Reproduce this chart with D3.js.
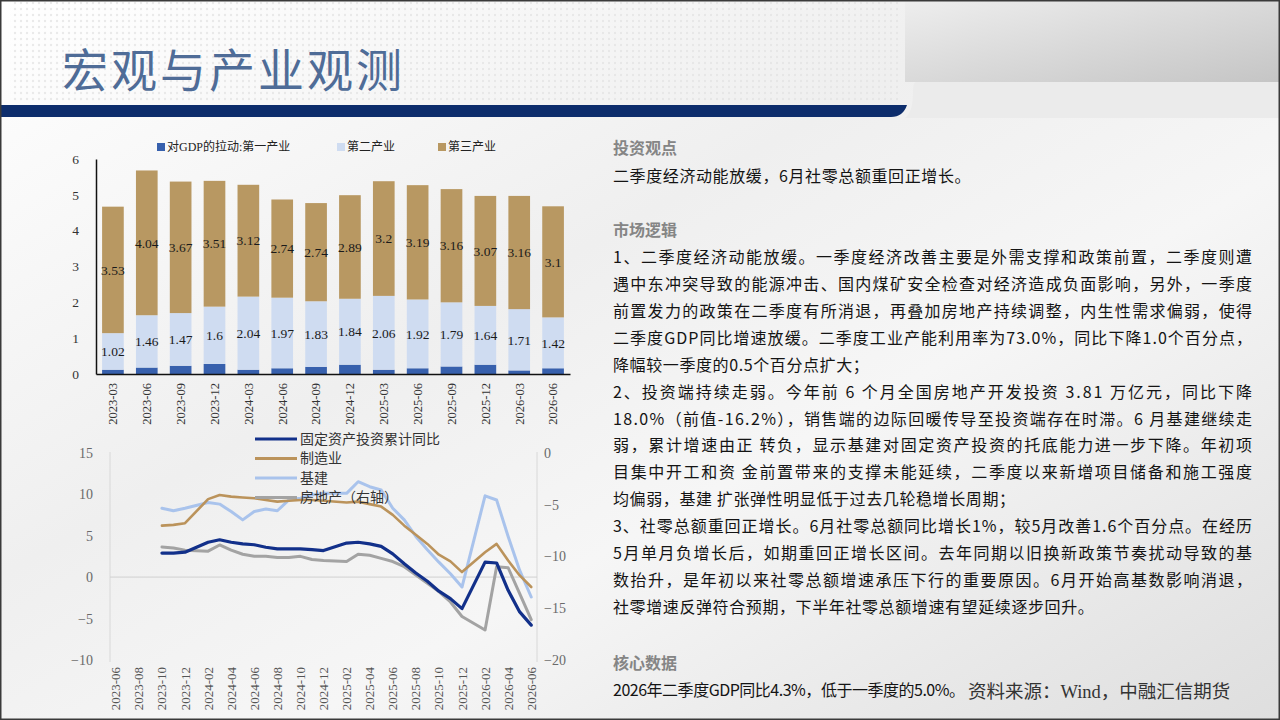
<!DOCTYPE html>
<html>
<head>
<meta charset="utf-8">
<script src="https://cdn.jsdelivr.net/npm/d3@7"></script>
<style>
  body { margin: 0; background: #fff; }
  svg { display: block; font-family: "Liberation Serif", "Noto Sans CJK SC", serif; }
  .panel { font-family: "Noto Sans CJK SC", sans-serif; }
</style>
</head>
<body>
<svg id="slide" width="1280" height="720"></svg>
<script>
// ---- bar chart data (GDP 拉动, 季度) ----
const quarters = ["2023-03","2023-06","2023-09","2023-12","2024-03","2024-06","2024-09","2024-12","2025-03","2025-06","2025-09","2025-12","2026-03","2026-06"];
const primary   = [0.12,0.18,0.23,0.28,0.12,0.16,0.20,0.26,0.12,0.16,0.21,0.26,0.10,0.16];
const secondary = [1.02,1.46,1.47,1.6,2.04,1.97,1.83,1.84,2.06,1.92,1.79,1.64,1.71,1.42];
const tertiary  = [3.53,4.04,3.67,3.51,3.12,2.74,2.74,2.89,3.2,3.19,3.16,3.07,3.16,3.1];
const barSeries = ["对GDP的拉动:第一产业","第二产业","第三产业"];
const barTicks = [0,1,2,3,4,5,6];

// ---- line chart data (月度累计同比) ----
const axisMonths = ["2023-06","2023-07","2023-08","2023-09","2023-10","2023-11","2023-12",
  "2024-01","2024-02","2024-03","2024-04","2024-05","2024-06","2024-07","2024-08","2024-09","2024-10","2024-11","2024-12",
  "2025-01","2025-02","2025-03","2025-04","2025-05","2025-06","2025-07","2025-08","2025-09","2025-10","2025-11","2025-12",
  "2026-01","2026-02","2026-03","2026-04","2026-05","2026-06"];
const dataMonths = ["2023-10","2023-11","2023-12",
  "2024-02","2024-03","2024-04","2024-05","2024-06","2024-07","2024-08","2024-09","2024-10","2024-11","2024-12",
  "2025-02","2025-03","2025-04","2025-05","2025-06","2025-07","2025-08","2025-09","2025-10","2025-11","2025-12",
  "2026-02","2026-03","2026-04","2026-05","2026-06"];
const fixedAsset    = [2.9,2.9,3.0, 4.2,4.5,4.2,4.0,3.9,3.6,3.4,3.4,3.4,3.3,3.2, 4.1,4.2,4.0,3.7,2.8,1.6,0.5,-0.5,-1.7,-2.6,-3.8, 1.8,1.7,-1.6,-4.2,-5.8];
const manufacturing = [6.2,6.3,6.5, 9.4,9.9,9.7,9.6,9.5,9.3,9.1,9.2,9.3,9.3,9.2, 9.0,9.1,8.8,8.5,7.5,6.2,5.1,4.0,2.7,1.9,0.6, 3.0,4.0,2.0,0.2,-1.2];
const infra         = [8.3,8.0,8.3, 9.0,8.8,7.9,6.9,7.9,8.2,8.0,9.3,9.5,9.9,10.1, 10.1,11.5,10.9,10.5,8.3,6.9,4.9,3.3,1.8,0.4,-1.2, 9.8,9.3,4.9,0.8,-2.4];
const realEstate    = [-9.1,-9.2,-9.4, -9.5,-8.9,-9.4,-9.8,-10.0,-10.0,-10.1,-10.1,-10.0,-10.3,-10.4, -10.5,-9.8,-9.9,-10.2,-10.5,-11.0,-11.8,-12.6,-13.4,-14.4,-15.8, -17.1,-11.0,-11.1,-13.6,-16.1];
const lineNames = ["固定资产投资累计同比","制造业","基建","房地产（右轴）"];
const leftTicks = [15,10,5,0,-5,-10];
const rightTicks = [0,-5,-10,-15,-20];

// ---- text panel ----
const panelBlocks = [
  { head: "投资观点", lines: [["二季度经济动能放缓，6月社零总额重回正增长。", 0]] },
  { head: "市场逻辑", lines: [
    ["1、二季度经济动能放缓。一季度经济改善主要是外需支撑和政策前置，二季度则遭", 639],
    ["遇中东冲突导致的能源冲击、国内煤矿安全检查对经济造成负面影响，另外，一季度", 639],
    ["前置发力的政策在二季度有所消退，再叠加房地产持续调整，内生性需求偏弱，使得", 639],
    ["二季度GDP同比增速放缓。二季度工业产能利用率为73.0%，同比下降1.0个百分点，", 639],
    ["降幅较一季度的0.5个百分点扩大；", 0],
    ["2、投资端持续走弱。今年前 6 个月全国房地产开发投资 3.81 万亿元，同比下降", 639],
    ["18.0%（前值-16.2%），销售端的边际回暖传导至投资端存在时滞。6 月基建继续走", 639],
    ["弱，累计增速由正 转负，显示基建对固定资产投资的托底能力进一步下降。年初项", 639],
    ["目集中开工和资 金前置带来的支撑未能延续，二季度以来新增项目储备和施工强度", 639],
    ["均偏弱，基建 扩张弹性明显低于过去几轮稳增长周期；", 0],
    ["3、社零总额重回正增长。6月社零总额同比增长1%，较5月改善1.6个百分点。在经历", 639],
    ["5月单月负增长后，如期重回正增长区间。去年同期以旧换新政策节奏扰动导致的基", 639],
    ["数抬升，是年初以来社零总额增速承压下行的重要原因。6月开始高基数影响消退，", 639],
    ["社零增速反弹符合预期，下半年社零总额增速有望延续逐步回升。", 0]
  ]},
  { head: "核心数据", lines: [["2026年二季度GDP同比4.3%，低于一季度的5.0%。", 352]] }
];
const sourceNote = "资料来源：Wind，中融汇信期货";
const slideTitle = "宏观与产业观测";

const svg = d3.select("#slide");
const defs = svg.append("defs");

// background
const bg = defs.append("linearGradient").attr("id", "bg")
  .attr("x1", "0").attr("y1", "0").attr("x2", "1").attr("y2", "1");
bg.append("stop").attr("offset", "0%").attr("stop-color", "#ffffff");
bg.append("stop").attr("offset", "40%").attr("stop-color", "#efefef");
bg.append("stop").attr("offset", "62%").attr("stop-color", "#f6f6f6");
bg.append("stop").attr("offset", "100%").attr("stop-color", "#dedede");
svg.append("rect").attr("width", 1280).attr("height", 720).attr("fill", "url(#bg)");

const dots = defs.append("pattern").attr("id", "dots")
  .attr("width", 6).attr("height", 6).attr("patternUnits", "userSpaceOnUse");
dots.append("circle").attr("cx", 3).attr("cy", 3).attr("r", 1.2).attr("fill", "#e2e2e2");
svg.append("rect").attr("x", 10).attr("y", 2).attr("width", 890).attr("height", 100)
  .attr("fill", "url(#dots)").attr("opacity", 0.7);

const hdr = defs.append("linearGradient").attr("id", "hdr")
  .attr("x1", "0").attr("y1", "0").attr("x2", "1").attr("y2", "1");
hdr.append("stop").attr("offset", "0%").attr("stop-color", "#eeeeee");
hdr.append("stop").attr("offset", "100%").attr("stop-color", "#c5c5c5");
svg.append("rect").attr("x", 905).attr("y", 0).attr("width", 375).attr("height", 82).attr("fill", "url(#hdr)");
svg.append("path").attr("d", "M916 82 L1280 82 L1280 118 L905 118 Q913 112 913 92 Q913 82 916 82 Z").attr("fill", "#ebebeb");
svg.append("path").attr("d", "M0 105 L907 105 Q903 117 891 117 L0 117 Z").attr("fill", "#0d2d6c");

svg.append("text").attr("x", 62).attr("y", 87)
  .attr("font-family", "'Noto Sans CJK SC', sans-serif").attr("font-weight", 400)
  .attr("font-size", 46).attr("letter-spacing", 3).attr("fill", "#4f6c97").text(slideTitle);

// ---------------- bar chart ----------------
const bx = d3.scaleBand().domain(quarters).range([96, 570]).paddingInner(0.36).paddingOuter(0.18);
const by = d3.scaleLinear().domain([0, 6]).range([374, 159]);
const barColors = ["#3760ad", "#cfdcf1", "#b89862"];

const stacked = d3.stack().keys([0, 1, 2]).value((d, k) => d[k])(
  quarters.map((q, i) => [primary[i], secondary[i], tertiary[i]])
);

const gBar = svg.append("g");
stacked.forEach((layer, k) => {
  gBar.selectAll(null).data(layer).enter().append("rect")
    .attr("x", (d, i) => bx(quarters[i]))
    .attr("width", bx.bandwidth())
    .attr("y", d => by(d[1]))
    .attr("height", d => by(d[0]) - by(d[1]))
    .attr("fill", barColors[k]);
  if (k > 0) {
    gBar.selectAll(null).data(layer).enter().append("text")
      .attr("x", (d, i) => bx(quarters[i]) + bx.bandwidth() / 2)
      .attr("y", d => by((d[0] + d[1]) / 2))
      .attr("dy", "0.35em").attr("text-anchor", "middle")
      .attr("font-size", 13.5).attr("fill", "#1a1a1a")
      .text((d, i) => (k === 1 ? secondary[i] : tertiary[i]));
  }
});

const yAxisBar = svg.append("g").attr("transform", "translate(96,0)")
  .call(d3.axisLeft(by).tickValues(barTicks).tickFormat(d3.format("d")).tickSize(0).tickPadding(17));
yAxisBar.select(".domain").attr("stroke", "#111").attr("stroke-width", 1.5);
yAxisBar.selectAll("text").attr("font-size", 13.5).attr("fill", "#333")
  .attr("font-family", "'Liberation Serif', serif");

const xAxisBar = svg.append("g").attr("transform", "translate(0,374)")
  .call(d3.axisBottom(bx).tickSize(0).tickPadding(0));
xAxisBar.select(".domain").attr("stroke", "#111").attr("stroke-width", 1.5);
xAxisBar.selectAll("text").attr("font-size", 12.5).attr("fill", "#333")
  .attr("font-family", "'Liberation Serif', serif")
  .attr("text-anchor", "end").attr("transform", "translate(0,9) rotate(-90)")
  .attr("dx", 0).attr("dy", "0.35em").attr("y", 0).attr("x", 0);

const legBar = svg.append("g");
const legBarX = [157, 337, 438];
barSeries.forEach((name, k) => {
  legBar.append("rect").attr("x", legBarX[k]).attr("y", 143).attr("width", 8).attr("height", 8).attr("fill", barColors[k]);
  legBar.append("text").attr("x", legBarX[k] + 10).attr("y", 147).attr("dy", "0.35em")
    .attr("font-size", 12).attr("fill", "#222").text(name);
});

// ---------------- line chart ----------------
const lx = d3.scaleBand().domain(axisMonths).range([110, 537]);
const lyL = d3.scaleLinear().domain([-10, 15]).range([660, 452.7]);
const lyR = d3.scaleLinear().domain([-20, 0]).range([660, 452.7]);
const cx = m => lx(m) + lx.bandwidth() / 2;

const gLine = svg.append("g");
gLine.append("line").attr("x1", 110).attr("x2", 110).attr("y1", 452).attr("y2", 662).attr("stroke", "#d8d8d8");
gLine.append("line").attr("x1", 537).attr("x2", 537).attr("y1", 452).attr("y2", 662).attr("stroke", "#d8d8d8");
gLine.append("line").attr("x1", 110).attr("x2", 537).attr("y1", lyL(0)).attr("y2", lyL(0)).attr("stroke", "#d0d0d0");

const yl = svg.append("g").attr("transform", "translate(110,0)")
  .call(d3.axisLeft(lyL).tickValues(leftTicks).tickSize(0).tickPadding(17));
yl.select(".domain").remove();
yl.selectAll("text").attr("font-size", 14).attr("fill", "#6a6a6a").attr("font-family", "'Liberation Serif', serif");

const yr = svg.append("g").attr("transform", "translate(537,0)")
  .call(d3.axisRight(lyR).tickValues(rightTicks).tickSize(0).tickPadding(7));
yr.select(".domain").remove();
yr.selectAll("text").attr("font-size", 14).attr("fill", "#6a6a6a").attr("font-family", "'Liberation Serif', serif");

const xl = svg.append("g").attr("transform", "translate(0,667)")
  .call(d3.axisBottom(lx).tickValues(axisMonths.filter((m, i) => i % 2 === 0)).tickSize(0));
xl.select(".domain").remove();
xl.selectAll("text").attr("font-size", 13).attr("fill", "#555")
  .attr("font-family", "'Liberation Serif', serif")
  .attr("text-anchor", "end").attr("transform", "rotate(-90)")
  .attr("x", 0).attr("y", 0).attr("dy", "0.35em");

const lineDefs = [
  { vals: fixedAsset, color: "#12308a", w: 3.2, y: lyL },
  { vals: manufacturing, color: "#bb935b", w: 2.6, y: lyL },
  { vals: infra, color: "#a9c3ec", w: 3, y: lyL },
  { vals: realEstate, color: "#a3a3a3", w: 3, y: lyR }
];
// draw order: real estate first, so others sit above it
[3, 2, 1, 0].forEach(k => {
  const s = lineDefs[k];
  const gen = d3.line().x((d, i) => cx(dataMonths[i])).y(d => s.y(d)).curve(d3.curveLinear);
  gLine.append("path").datum(s.vals).attr("d", gen)
    .attr("fill", "none").attr("stroke", s.color).attr("stroke-width", s.w)
    .attr("stroke-linejoin", "round").attr("stroke-linecap", "round");
});

const legLine = svg.append("g");
lineNames.forEach((name, k) => {
  const yy = 439 + k * 19.5;
  legLine.append("line").attr("x1", 255).attr("x2", 297).attr("y1", yy).attr("y2", yy)
    .attr("stroke", lineDefs[k].color).attr("stroke-width", 3.2);
  legLine.append("text").attr("x", 300).attr("y", yy).attr("dy", "0.35em")
    .attr("font-size", 14).attr("fill", "#333").text(name);
});

// ---------------- text panel ----------------
const panel = svg.append("g").attr("class", "panel");
const blockY = [148, 230, 663];
panelBlocks.forEach((b, bi) => {
  let y = blockY[bi];
  panel.append("text").attr("x", 613).attr("y", y).attr("dy", "0.35em")
    .attr("font-size", 16).attr("font-weight", 700).attr("fill", "#858585").text(b.head);
  y += bi === 0 ? 28 : 27.5;
  b.lines.forEach(([t, w]) => {
    const tx = panel.append("text").attr("x", 613).attr("y", y).attr("dy", "0.35em")
      .attr("font-size", 16).attr("fill", "#141414").text(t);
    if (w) tx.attr("textLength", w).attr("lengthAdjust", "spacing");
    else tx.attr("letter-spacing", 0.6);
    y += 26.9;
  });
});

svg.append("text").attr("x", 968).attr("y", 692).attr("dy", "0.35em")
  .attr("font-family", "'Liberation Serif', 'Noto Sans CJK SC', serif")
  .attr("font-size", 18.5).attr("fill", "#333").text(sourceNote);

// slide frame
svg.append("rect").attr("x", 0.75).attr("y", 0.75).attr("width", 1278.5).attr("height", 718.5)
  .attr("fill", "none").attr("stroke", "#3a3a3a").attr("stroke-width", 1.5);
</script>
</body>
</html>
